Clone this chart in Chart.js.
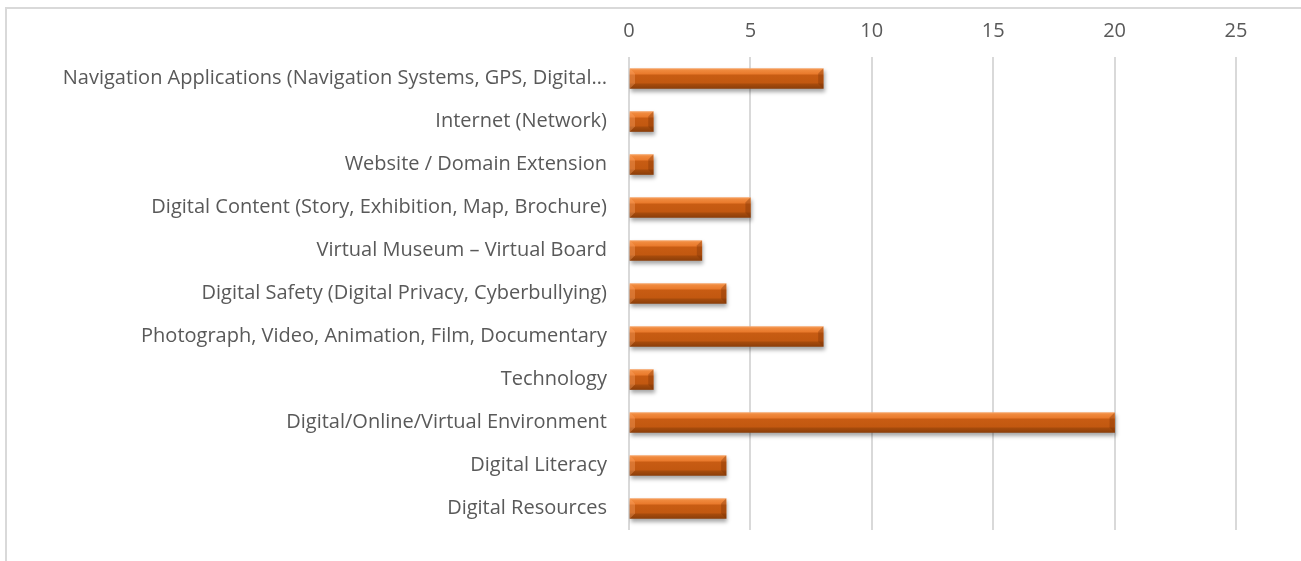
<!DOCTYPE html>
<html>
<head>
<meta charset="utf-8">
<script src="https://cdn.jsdelivr.net/npm/chart.js@4.4.1/dist/chart.umd.min.js"></script>
<style>
  html, body { margin: 0; padding: 0; background: #fff; overflow: hidden; }
  #frame {
    position: absolute; left: 5px; top: 7px; width: 1400px; height: 700px;
    border: 2px solid #d9d9d9; box-sizing: border-box;
  }
  #wrap { position: absolute; left: 0; top: 0; width: 1301px; height: 561px; }
</style>
</head>
<body>
<div id="frame"></div>
<div id="wrap"><canvas id="chart"></canvas></div>
<script>
const categories = [
  'Navigation Applications (Navigation Systems, GPS, Digital…',
  'Internet (Network)',
  'Website / Domain Extension',
  'Digital Content (Story, Exhibition, Map, Brochure)',
  'Virtual Museum – Virtual Board',
  'Digital Safety (Digital Privacy, Cyberbullying)',
  'Photograph, Video, Animation, Film, Documentary',
  'Technology',
  'Digital/Online/Virtual Environment',
  'Digital Literacy',
  'Digital Resources'
];
const counts = [8, 1, 1, 5, 3, 4, 8, 1, 20, 4, 4];
const xTicks = [0, 5, 10, 15, 20, 25];

const BAR_H = 20;

function barFill(context) {
  const chart = context.chart;
  const yScale = chart.scales.y;
  if (!yScale || context.dataIndex === undefined) return '#c55a11';
  const yc = yScale.getPixelForValue(context.dataIndex);
  if (!Number.isFinite(yc)) return '#c55a11';
  const top = yc - BAR_H / 2;
  const g = chart.ctx.createLinearGradient(0, top, 0, top + BAR_H);
  g.addColorStop(0, '#f7a66a');
  g.addColorStop(0.08, '#f08a3e');
  g.addColorStop(0.28, '#e9792b');
  g.addColorStop(0.32, '#c85c13');
  g.addColorStop(0.72, '#c25810');
  g.addColorStop(0.78, '#a64b0c');
  g.addColorStop(1, '#8c3e09');
  return g;
}

const barShadow = {
  id: 'barShadow',
  beforeDatasetDraw(chart) {
    const ctx = chart.ctx;
    ctx.save();
    ctx.shadowColor = 'rgba(0,0,0,0.35)';
    ctx.shadowBlur = 4;
    ctx.shadowOffsetX = 1;
    ctx.shadowOffsetY = 3;
  },
  afterDatasetDraw(chart) {
    chart.ctx.restore();
  }
};

// end facets of the beveled bars
const barBevel = {
  id: 'barBevel',
  afterDatasetsDraw(chart) {
    const ctx = chart.ctx;
    const meta = chart.getDatasetMeta(0);
    meta.data.forEach(function (bar) {
      const p = bar.getProps(['x', 'y', 'base', 'height'], true);
      const left = p.base, right = p.x, top = p.y - p.height / 2, bot = p.y + p.height / 2;
      const b = 5;
      ctx.save();
      ctx.fillStyle = 'rgba(120,50,5,0.35)';
      ctx.beginPath();
      ctx.moveTo(right, top);
      ctx.lineTo(right, bot);
      ctx.lineTo(right - b, bot - b);
      ctx.lineTo(right - b, top + b);
      ctx.closePath();
      ctx.fill();
      ctx.fillStyle = 'rgba(255,170,110,0.35)';
      ctx.beginPath();
      ctx.moveTo(left, top);
      ctx.lineTo(left, bot);
      ctx.lineTo(left + b, bot - b);
      ctx.lineTo(left + b, top + b);
      ctx.closePath();
      ctx.fill();
      ctx.restore();
    });
  }
};

new Chart(document.getElementById('chart'), {
  type: 'bar',
  data: {
    labels: categories,
    datasets: [{
      data: counts,
      backgroundColor: barFill,
      borderWidth: 0,
      barThickness: BAR_H
    }]
  },
  options: {
    indexAxis: 'y',
    responsive: true,
    maintainAspectRatio: false,
    animation: false,
    layout: { padding: { top: 5, right: 65, bottom: 31, left: 0 } },
    plugins: { legend: { display: false }, tooltip: { enabled: false } },
    scales: {
      x: {
        position: 'top',
        min: 0,
        max: 25,
        afterBuildTicks(scale) {
          scale.ticks = xTicks.map(function (v) { return { value: v }; });
        },
        grid: { color: '#d9d9d9', lineWidth: 2, drawTicks: false },
        border: { display: false },
        ticks: {
          padding: 14,
          color: '#595959',
          font: { family: 'Open Sans', size: 20 }
        }
      },
      y: {
        grid: { display: false },
        border: { display: false },
        afterFit(scale) { scale.width = 629; },
        ticks: {
          padding: 14,
          color: '#595959',
          autoSkip: false,
          font: { family: 'Open Sans', size: 20 }
        }
      }
    }
  },
  plugins: [barShadow, barBevel]
});
</script>
</body>
</html>
